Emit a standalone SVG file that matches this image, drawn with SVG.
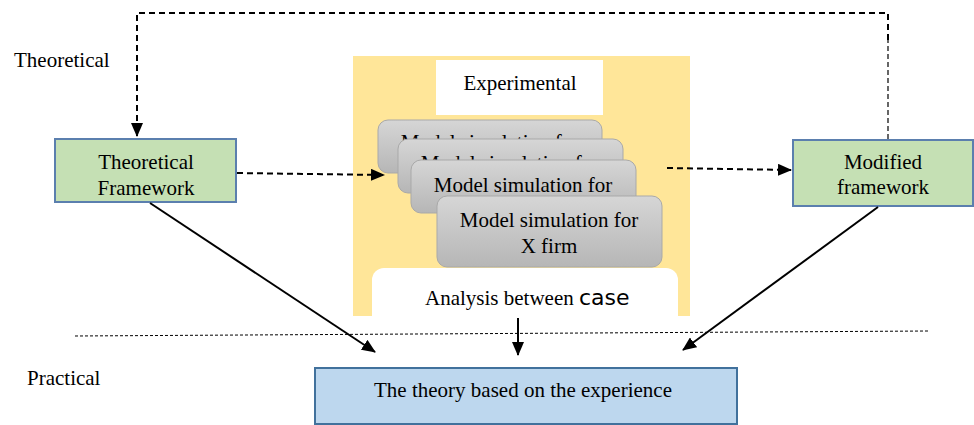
<svg xmlns="http://www.w3.org/2000/svg" width="974" height="425" viewBox="0 0 974 425">
<defs>
<linearGradient id="gg" x1="0" y1="0" x2="0" y2="1">
<stop offset="0" stop-color="#d6d6d6"/>
<stop offset="1" stop-color="#b6b6b6"/>
</linearGradient>
<marker id="ahb" markerWidth="14" markerHeight="12" refX="13" refY="6" orient="auto" markerUnits="userSpaceOnUse" viewBox="0 0 14 12">
<path d="M0,0 L14,6 L0,12 z" fill="#000"/>
</marker>
</defs>
<style>
text{font-family:"Liberation Serif","Times New Roman",serif;font-size:21px;fill:#000}
.c{text-anchor:middle}
.g{fill:url(#gg);stroke:#a9a9a9;stroke-width:1}
.solid{stroke:#000;stroke-width:2;fill:none}
.dash{stroke:#000;stroke-width:2;fill:none;stroke-dasharray:6,4}
.thin{stroke:#000;stroke-width:1.2;fill:none;stroke-dasharray:5,3}
</style>
<rect width="974" height="425" fill="#fff"/>
<text x="14" y="67">Theoretical</text>
<text x="27" y="385">Practical</text>
<g id="experimental-area">
<rect x="353" y="56" width="337" height="260" fill="#ffe699"/>
<rect x="436" y="60" width="167" height="55" fill="#fff"/>
<text class="c" x="520" y="90">Experimental</text>
</g>
<g id="sim1">
<rect class="g" x="378" y="120" width="224" height="53" rx="10"/>
<text class="c" x="490" y="149">Model simulation for</text>
</g>
<g id="sim2">
<rect class="g" x="398" y="139" width="225" height="54" rx="10"/>
<text class="c" x="510" y="170">Model simulation for</text>
</g>
<g id="sim3">
<rect class="g" x="411" y="160" width="225" height="53" rx="10"/>
<text class="c" x="523" y="192">Model simulation for</text>
</g>
<g id="sim4">
<rect class="g" x="437" y="196" width="225" height="71" rx="10"/>
<text class="c" x="549" y="227">Model simulation for</text>
<text class="c" x="549" y="253">X firm</text>
</g>
<g id="analysis">
<path d="M372,316 V280 a12,12 0 0 1 12,-12 H666 a12,12 0 0 1 12,12 V316 z" fill="#fff"/>
<text x="425" y="305">Analysis between <tspan style="font-family:'DejaVu Sans','Noto Sans',sans-serif;font-size:22px">case</tspan></text>
</g>
<g id="theoretical-framework">
<rect x="55" y="139" width="181" height="63" fill="#c5e0b4" stroke="#5b7fae" stroke-width="2"/>
<text class="c" x="146" y="169">Theoretical</text>
<text class="c" x="146" y="195">Framework</text>
</g>
<g id="modified-framework">
<rect x="793" y="140" width="180" height="66" fill="#c5e0b4" stroke="#5b7fae" stroke-width="2"/>
<text class="c" x="883" y="169">Modified</text>
<text class="c" x="883" y="194">framework</text>
</g>
<g id="theory-experience">
<rect x="315" y="368" width="422" height="56" fill="#bdd7ee" stroke="#41719c" stroke-width="2"/>
<text class="c" x="523" y="397">The theory based on the experience</text>
</g>
<g id="connectors">
<line x1="75" y1="336" x2="930" y2="331" stroke="#000" stroke-width="1" stroke-dasharray="3,2"/>
<path class="dash" d="M888,40 V13 H137 V136" marker-end="url(#ahb)"/>
<path class="thin" d="M888,139 V40"/>
<line class="dash" x1="237" y1="173" x2="384" y2="175" marker-end="url(#ahb)"/>
<line class="dash" x1="667" y1="168" x2="791" y2="170" marker-end="url(#ahb)"/>
<line class="solid" x1="150" y1="203" x2="375" y2="352" marker-end="url(#ahb)"/>
<line class="solid" x1="518" y1="318" x2="518" y2="355" marker-end="url(#ahb)"/>
<line class="solid" x1="878" y1="207" x2="683" y2="350" marker-end="url(#ahb)"/>
</g>
</svg>
